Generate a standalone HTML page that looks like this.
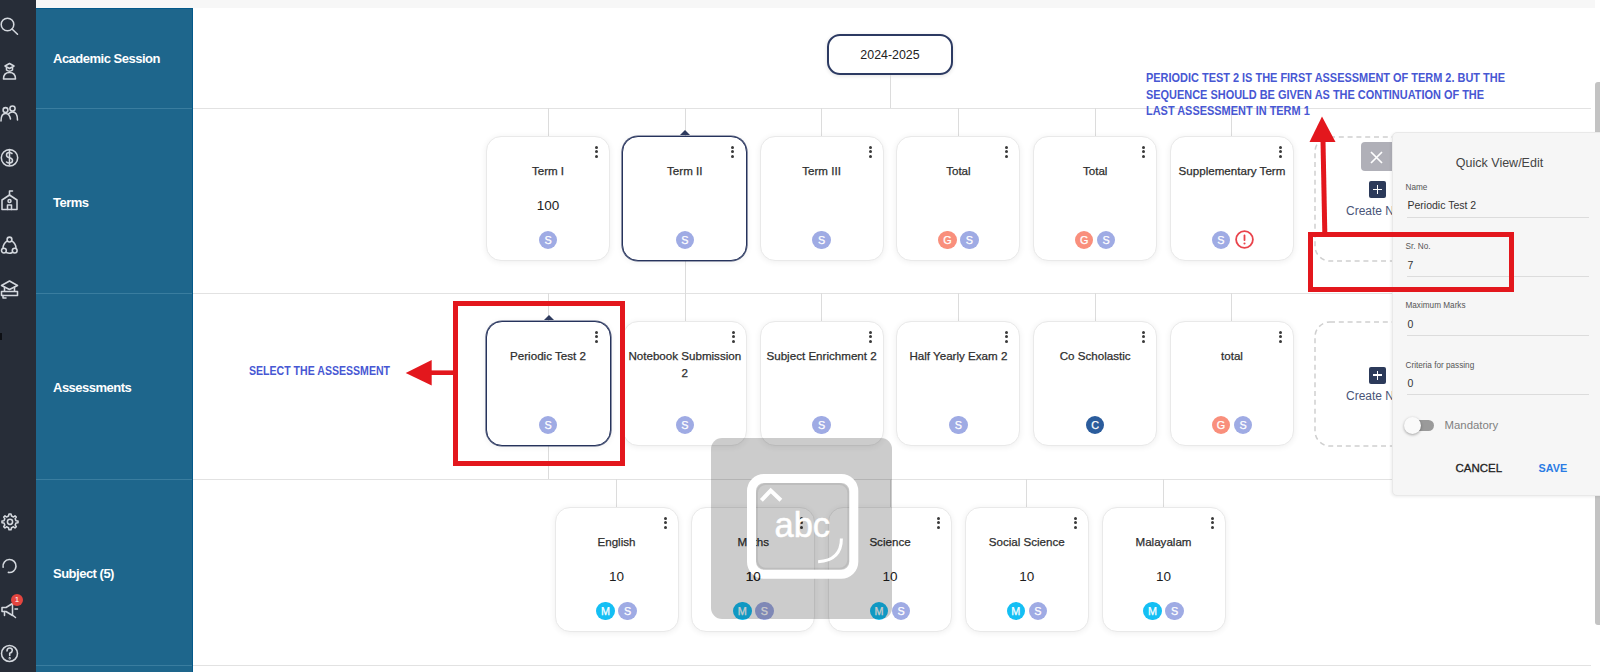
<!DOCTYPE html>
<html><head><meta charset="utf-8">
<style>
*{box-sizing:border-box;margin:0;padding:0}
html,body{width:1600px;height:672px;overflow:hidden;background:#fff;font-family:"Liberation Sans",sans-serif;position:relative}
.abs{position:absolute}
#side{left:0;top:0;width:36px;height:672px;background:#272d38}
#topstrip{left:36px;top:0;width:1559px;height:8px;background:#f7f7f7}
#blue{left:36px;top:8px;width:157px;height:664px;background:#1e668c;border-top:1px solid #04598a;border-right:1px solid #04598a}
.bsep{position:absolute;left:36px;width:156px;height:1px;background:#3a7d9f}
.msep{position:absolute;left:193px;width:1398px;height:1px;background:#e2e2e2}
.lbl{position:absolute;left:53px;color:#fff;font-weight:bold;font-size:13px;letter-spacing:-0.5px;line-height:16px}
.vl{position:absolute;width:1px;background:#dcdcdc}
.card{position:absolute;width:124px;height:125px;margin-top:-0.5px;background:#fff;border:1px solid #e9e9e9;border-radius:15px;box-shadow:0 1px 6px rgba(0,0,0,0.07)}
.card.sel{border:1px solid #26335c;width:125px;height:125px;margin:-0.5px 0 0 -0.5px;border-radius:16px;box-shadow:0 0 0 0.6px rgba(38,51,92,0.85),0 1px 6px rgba(0,0,0,0.07)}
.card .t{position:absolute;left:0;right:0;white-space:nowrap;top:25px;text-align:center;font-size:11.6px;color:#2e2e2e;line-height:17px;letter-spacing:0px;-webkit-text-stroke:0.25px #2e2e2e}
.card .v{position:absolute;left:0;right:0;top:61px;text-align:center;font-size:13.5px;color:#1d1d1d;line-height:16px}
.card .b{position:absolute;left:0;right:0;top:94.3px;text-align:center;font-size:0;line-height:0}
.bd{display:inline-block;width:18.5px;height:18.5px;border-radius:50%;margin:-0.25px 1.75px 0;color:#fff;font-size:10.8px;line-height:18.5px;text-align:center;font-weight:normal;-webkit-text-stroke:0.25px #fff;vertical-align:top}
.bS{background:#9fabe4}.bG{background:#f98f7c}.bM{background:#14bff4}.bC{background:#2b5c9c}
.bdx{display:inline-block;vertical-align:top;margin:-0.5px 0 0 3.5px}
.dots{position:absolute;left:108px;top:9px;width:3px}
.dots i{display:block;width:3px;height:3px;border-radius:50%;background:#3a3a3a;margin-bottom:1.7px}
.notch{position:absolute;left:57px;top:-6.5px;width:0;height:0;border-left:5px solid transparent;border-right:5px solid transparent;border-bottom:5px solid #2e3a5e}
.ann{position:absolute;color:#4757d3;font-weight:bold;font-size:12px;line-height:16.5px;transform-origin:0 0}
.dash{position:absolute;width:124px;height:125px;border:1.5px dashed #d6d6d6;border-radius:14px}
.plus{position:absolute;width:17px;height:17px;background:#2c3a5a;border-radius:2px}
.plus:before{content:"";position:absolute;left:4px;top:7.7px;width:9px;height:1.7px;background:#fff}
.plus:after{content:"";position:absolute;left:7.65px;top:4px;width:1.7px;height:9px;background:#fff}
.crt{position:absolute;font-size:12px;color:#4a5578;white-space:nowrap}
.red{position:absolute;border:5px solid #e3171d}
</style></head>
<body>
<div id="side" class="abs"></div>
<div id="topstrip" class="abs"></div>
<div id="blue" class="abs"></div>
<div class="bsep" style="top:108px"></div>
<div class="bsep" style="top:293px"></div>
<div class="bsep" style="top:479px"></div>
<div class="bsep" style="top:665px"></div>
<div class="msep" style="top:108px"></div>
<div class="msep" style="top:293px"></div>
<div class="msep" style="top:479px"></div>
<div class="msep" style="top:665px"></div>
<div class="lbl" style="top:51px">Academic Session</div>
<div class="lbl" style="top:195px">Terms</div>
<div class="lbl" style="top:380px">Assessments</div>
<div class="lbl" style="top:565.5px">Subject (5)</div>

<!-- scrollbar -->
<div class="abs" style="left:1595px;top:82px;width:5px;height:543px;background:#c3c3c3;border-radius:3px 0 0 3px"></div>

<!-- session pill -->
<div class="abs" style="left:827px;top:34px;width:126px;height:41px;border:2px solid #2c3a62;border-radius:13px;text-align:center;font-size:12px;line-height:39px;color:#222;font-size:12.4px;box-shadow:0 1px 4px rgba(0,0,0,0.12)">2024-2025</div>
<div class="vl" style="left:890px;top:75px;height:33px"></div>

<div class="vl" style="left:548px;top:108px;height:28px"></div>
<div class="vl" style="left:548px;top:293px;height:28px"></div>
<div class="vl" style="left:685px;top:108px;height:28px"></div>
<div class="vl" style="left:685px;top:293px;height:28px"></div>
<div class="vl" style="left:821px;top:108px;height:28px"></div>
<div class="vl" style="left:821px;top:293px;height:28px"></div>
<div class="vl" style="left:958px;top:108px;height:28px"></div>
<div class="vl" style="left:958px;top:293px;height:28px"></div>
<div class="vl" style="left:1095px;top:108px;height:28px"></div>
<div class="vl" style="left:1095px;top:293px;height:28px"></div>
<div class="vl" style="left:1231px;top:108px;height:28px"></div>
<div class="vl" style="left:1231px;top:293px;height:28px"></div>
<div class="vl" style="left:685px;top:260px;height:33px"></div>
<div class="vl" style="left:548px;top:446px;height:33px"></div>
<div class="vl" style="left:616px;top:479px;height:28px"></div>
<div class="vl" style="left:753px;top:479px;height:28px"></div>
<div class="vl" style="left:890px;top:479px;height:28px"></div>
<div class="vl" style="left:1026px;top:479px;height:28px"></div>
<div class="vl" style="left:1163px;top:479px;height:28px"></div>
<div class="card" style="left:486px;top:136px"><div class="dots"><i></i><i></i><i></i></div><div class="t">Term I</div><div class="v">100</div><div class="b"><span class="bd bS">S</span></div></div>
<div class="card sel" style="left:622.8px;top:136px"><div class="notch"></div><div class="dots"><i></i><i></i><i></i></div><div class="t">Term II</div><div class="b"><span class="bd bS">S</span></div></div>
<div class="card" style="left:759.6px;top:136px"><div class="dots"><i></i><i></i><i></i></div><div class="t">Term III</div><div class="b"><span class="bd bS">S</span></div></div>
<div class="card" style="left:896.4px;top:136px"><div class="dots"><i></i><i></i><i></i></div><div class="t">Total</div><div class="b"><span class="bd bG">G</span><span class="bd bS">S</span></div></div>
<div class="card" style="left:1033.2px;top:136px"><div class="dots"><i></i><i></i><i></i></div><div class="t">Total</div><div class="b"><span class="bd bG">G</span><span class="bd bS">S</span></div></div>
<div class="card" style="left:1170px;top:136px"><div class="dots"><i></i><i></i><i></i></div><div class="t">Supplementary Term</div><div class="b"><span class="bd bS">S</span><svg class="bdx" width="19" height="19" viewBox="0 0 19 19"><circle cx="9.5" cy="9.5" r="8.4" fill="#fff" stroke="#e9434b" stroke-width="1.8"/><rect x="8.6" y="4.6" width="1.8" height="6.4" rx="0.8" fill="#e9434b"/><circle cx="9.5" cy="13.5" r="1.05" fill="#e9434b"/></svg></div></div>
<div class="card sel" style="left:486px;top:321px"><div class="notch"></div><div class="dots"><i></i><i></i><i></i></div><div class="t">Periodic Test 2</div><div class="b"><span class="bd bS">S</span></div></div>
<div class="card" style="left:622.8px;top:321px"><div class="dots"><i></i><i></i><i></i></div><div class="t">Notebook Submission<br>2</div><div class="b"><span class="bd bS">S</span></div></div>
<div class="card" style="left:759.6px;top:321px"><div class="dots"><i></i><i></i><i></i></div><div class="t">Subject Enrichment 2</div><div class="b"><span class="bd bS">S</span></div></div>
<div class="card" style="left:896.4px;top:321px"><div class="dots"><i></i><i></i><i></i></div><div class="t">Half Yearly Exam 2</div><div class="b"><span class="bd bS">S</span></div></div>
<div class="card" style="left:1033.2px;top:321px"><div class="dots"><i></i><i></i><i></i></div><div class="t">Co Scholastic</div><div class="b"><span class="bd bC">C</span></div></div>
<div class="card" style="left:1170px;top:321px"><div class="dots"><i></i><i></i><i></i></div><div class="t">total</div><div class="b"><span class="bd bG">G</span><span class="bd bS">S</span></div></div>
<div class="card" style="left:554.5px;top:507px"><div class="dots"><i></i><i></i><i></i></div><div class="t">English</div><div class="v">10</div><div class="b"><span class="bd bM">M</span><span class="bd bS">S</span></div></div>
<div class="card" style="left:691.25px;top:507px"><div class="dots"><i></i><i></i><i></i></div><div class="t">Maths</div><div class="v">10</div><div class="b"><span class="bd bM">M</span><span class="bd bS">S</span></div></div>
<div class="card" style="left:828px;top:507px"><div class="dots"><i></i><i></i><i></i></div><div class="t">Science</div><div class="v">10</div><div class="b"><span class="bd bM">M</span><span class="bd bS">S</span></div></div>
<div class="card" style="left:964.75px;top:507px"><div class="dots"><i></i><i></i><i></i></div><div class="t">Social Science</div><div class="v">10</div><div class="b"><span class="bd bM">M</span><span class="bd bS">S</span></div></div>
<div class="card" style="left:1101.5px;top:507px"><div class="dots"><i></i><i></i><i></i></div><div class="t">Malayalam</div><div class="v">10</div><div class="b"><span class="bd bM">M</span><span class="bd bS">S</span></div></div>
<svg class="abs" style="left:1314px;top:136px" width="90" height="128"><rect x="1" y="1" width="124" height="124" rx="15" fill="none" stroke="#cfcfcf" stroke-width="1.5" stroke-dasharray="5 3.8"/></svg>
<svg class="abs" style="left:1314px;top:321px" width="90" height="128"><rect x="1" y="1" width="124" height="124" rx="15" fill="none" stroke="#cfcfcf" stroke-width="1.5" stroke-dasharray="5 3.8"/></svg>
<div class="abs" style="left:1361px;top:142px;width:40px;height:29px;background:#b0b0b8;border-radius:4px"></div>
<svg class="abs" style="left:1370px;top:151px" width="13" height="13"><path d="M1 1L12 12M12 1L1 12" stroke="#fff" stroke-width="1.7"/></svg>
<div class="plus" style="left:1369px;top:181px"></div>
<div class="crt" style="left:1346px;top:204px">Create New</div>
<div class="plus" style="left:1369px;top:366.5px"></div>
<div class="crt" style="left:1346px;top:389px">Create New</div>
<div class="ann" style="left:1146px;top:70px;white-space:nowrap;transform:scaleX(0.912)">PERIODIC TEST 2 IS THE FIRST ASSESSMENT OF TERM 2. BUT THE<br>SEQUENCE SHOULD BE GIVEN AS THE CONTINUATION OF THE<br>LAST ASSESSMENT IN TERM 1</div>
<div class="ann" style="left:249px;top:362.7px;white-space:nowrap;transform:scaleX(0.88)">SELECT THE ASSESSMENT</div>
<div class="abs" style="left:1391.5px;top:132px;width:214px;height:364px;background:#f6f6f6;border:1px solid #e9e9e9;border-radius:5px;box-shadow:-1px 1px 3px rgba(0,0,0,0.07)">
<div class="abs" style="left:0;width:214px;top:23px;text-align:center;font-size:12.5px;color:#444">Quick View/Edit</div>
<div class="abs fl" style="left:13px;top:50px;font-size:8.2px;color:#555">Name</div>
<div class="abs fv" style="left:15px;top:66px;font-size:10.5px;color:#333">Periodic Test 2</div>
<div class="abs" style="left:14px;top:84px;width:182px;height:1px;background:#dcdcdc"></div>
<div class="abs fl" style="left:13px;top:108.5px;font-size:8.2px;color:#555">Sr. No.</div>
<div class="abs fv" style="left:15px;top:126px;font-size:10.5px;color:#333">7</div>
<div class="abs" style="left:14px;top:143px;width:182px;height:1px;background:#dcdcdc"></div>
<div class="abs fl" style="left:13px;top:167.5px;font-size:8.2px;color:#555">Maximum Marks</div>
<div class="abs fv" style="left:15px;top:185px;font-size:10.5px;color:#333">0</div>
<div class="abs" style="left:14px;top:202px;width:182px;height:1px;background:#dcdcdc"></div>
<div class="abs fl" style="left:13px;top:227.5px;font-size:8.2px;color:#555">Criteria for passing</div>
<div class="abs fv" style="left:15px;top:244px;font-size:10.5px;color:#333">0</div>
<div class="abs" style="left:14px;top:261px;width:182px;height:1px;background:#dcdcdc"></div>
<div class="abs" style="left:15px;top:287px;width:26px;height:11px;border-radius:6px;background:#9a9a9a"></div>
<div class="abs" style="left:11px;top:284px;width:17px;height:17px;border-radius:50%;background:#fafafa;box-shadow:0 1px 3px rgba(0,0,0,0.35)"></div>
<div class="abs" style="left:52px;top:286px;font-size:11.4px;color:#808080">Mandatory</div>
<div class="abs" style="left:63px;top:329px;font-size:11.5px;color:#222;-webkit-text-stroke:0.3px #222">CANCEL</div>
<div class="abs" style="left:146px;top:329px;font-size:11px;color:#2a7be4;font-weight:bold;font-size:10.8px">SAVE</div>
</div>
<div class="abs" style="left:710.5px;top:438px;width:181px;height:181px;background:rgba(0,0,0,0.2);border-radius:11px"></div>
<svg class="abs" style="left:745px;top:472px" width="116" height="109" viewBox="0 0 116 109">
<rect x="12" y="12" width="91.3" height="84.8" rx="9" fill="none" stroke="rgba(0,0,0,0.07)" stroke-width="2"/>
<rect x="6.5" y="6.5" width="102.3" height="95.8" rx="12.5" fill="none" stroke="#fff" stroke-width="9"/>
<path d="M16.4 28.3 L25.7 18.6 L35.9 28.3" fill="none" stroke="#fff" stroke-width="4"/>
<text x="57.3" y="64.6" text-anchor="middle" font-family="Liberation Sans" font-size="34.5" fill="#fff" stroke="#fff" stroke-width="0.5">abc</text>
<path d="M96.4 66.5 Q96.4 88.5 73.1 89.7" fill="none" stroke="#fff" stroke-width="3"/>
</svg>
<div class="abs" style="left:692.25px;top:568.5px;width:122px;text-align:center;font-size:13.5px;line-height:16px;color:#1d1d1d">10</div>
<svg class="abs" style="left:0;top:0" width="36" height="672" viewBox="0 0 36 672" fill="none" stroke="#d4d8de" stroke-width="1.55" stroke-linecap="round" stroke-linejoin="round">
<circle cx="7.5" cy="24.5" r="6.3"/><path d="M12 29 L17.5 34.3"/>
<path d="M5 66 L9.5 63.5 L14 66 L9.5 68.5 Z"/><path d="M6.5 67 L6.5 70 Q9.5 72.5 12.5 70 L12.5 67"/><path d="M3.5 79 Q3.5 72.5 9.5 72.5 Q15.5 72.5 15.5 79 Z"/>
<circle cx="5.5" cy="110" r="2.4"/><circle cx="12.5" cy="108.5" r="2.6"/><path d="M1 121 Q1 113.5 5.5 113.5 Q9.5 113.5 10.5 119"/><path d="M8.5 114 Q10 112 12.5 112 Q17.5 112 17.5 120"/>
<circle cx="9.5" cy="157.8" r="8.2"/><path d="M12 153.5 Q10.5 152.5 9.5 152.5 Q6.5 152.5 6.5 155 Q6.5 157.3 9.5 157.8 Q12.5 158.3 12.5 160.6 Q12.5 163 9.5 163 Q7.5 163 6.5 162"/><path d="M9.5 150.5 L9.5 165"/>
<path d="M2 209.5 L2 200 L9.5 195 L17 200 L17 209.5 Z"/><path d="M9.5 195 L9.5 191 L12.5 191"/><circle cx="9.5" cy="201" r="1.5"/><path d="M7.5 209.5 L7.5 205 L11.5 205 L11.5 209.5"/>
<circle cx="9.5" cy="239.5" r="2.4"/><circle cx="3.9" cy="250.6" r="2.4"/><circle cx="14.7" cy="250.6" r="2.4"/><path d="M7.4 240.8 Q3 243.5 3 248.2"/><path d="M11.6 240.8 Q16 243.5 16 248.2"/><path d="M6.3 252.5 Q9.5 254 12.3 252.5"/>
<path d="M1.5 285.5 L9.5 281 L17.5 285.5 L9.5 289.5 Z"/><path d="M4.5 287 L4.5 291"/><path d="M14.5 287 L14.5 291"/><path d="M1.5 291.5 L17.5 291.5 L17.5 295.5 L1.5 295.5 Z"/><path d="M3 295.5 L3 298 L6 298"/>
<path d="M9.5 514 L11 514 L11.5 516 L13.5 517 L15 515.8 L16.3 517 L15.2 518.7 L16 520.8 L18 521 L18 522.7 L16 523 L15.2 525 L16.3 526.7 L15 528 L13.5 526.8 L11.5 527.7 L11 529.7 L9 529.7 L8.5 527.7 L6.5 526.8 L5 528 L3.7 526.7 L4.8 525 L4 523 L2 522.7 L2 521 L4 520.8 L4.8 518.7 L3.7 517 L5 515.8 L6.5 517 L8.5 516 L9 514 Z"/><circle cx="10" cy="521.8" r="2.6"/>
<path d="M3.1 567.1 A6.5 6.5 0 1 1 8.4 572.4" stroke-width="1.6"/>
<path d="M2 607.5 L6 607.5 L12.5 603.5 L12.5 615.5 L6 611.5 L2 611.5 Z"/><path d="M4.5 611.5 L4.5 615.5"/><path d="M15 609 L17.5 609"/><path d="M13 615.5 L15.5 617.5"/>
<circle cx="9.5" cy="653.5" r="8"/><path d="M7 651 Q7 648 9.7 648 Q12.3 648 12.3 650.5 Q12.3 652.3 9.7 653.2 L9.7 655.5"/><circle cx="9.7" cy="658.3" r="0.4"/>
</svg>
<div class="abs" style="left:11px;top:594px;width:12px;height:12px;border-radius:50%;background:#e3453f;color:#fff;font-size:8px;line-height:12px;text-align:center">1</div>
<div class="abs" style="left:0;top:332.5px;width:1.5px;height:7px;background:#0d0f14"></div>
<div class="red" style="left:453px;top:301px;width:172px;height:165px"></div>
<div class="red" style="left:1308px;top:232px;width:206px;height:60px"></div>
<svg class="abs" style="left:400px;top:355px" width="60" height="35"><path d="M5.7 18.1 L31.7 5 L31.7 30.5 Z" fill="#e3171d"/><rect x="30" y="15.4" width="25" height="4.6" fill="#e3171d"/></svg>
<svg class="abs" style="left:1305px;top:110px" width="35" height="125"><path d="M4.5 32 L17 6.5 L30.5 32 Z" fill="#e3171d"/><path d="M15.5 31 L20.5 31 L22.3 123 L17.3 123 Z" fill="#e3171d"/></svg>
</body></html>
